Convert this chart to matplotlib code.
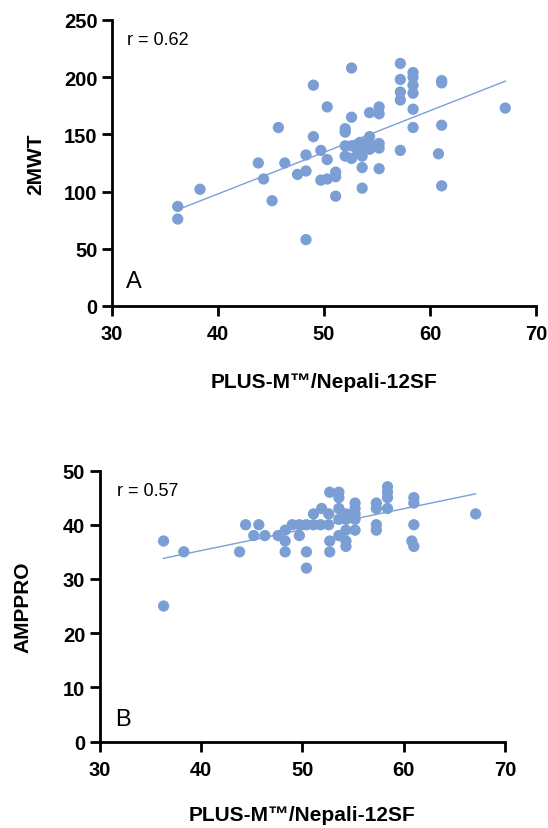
import numpy as np
import matplotlib
matplotlib.use('Agg')
import matplotlib.pyplot as plt

plt.rcParams['font.family'] = ['Liberation Sans', 'DejaVu Sans']

# Panel A: PLUS-M vs 2MWT
plus_a = [36.2, 36.2, 38.3, 43.8, 44.3, 45.1, 45.7, 46.3, 47.5, 48.3,
          48.3, 48.3, 49.0, 49.0, 49.7, 49.7, 50.3, 50.3, 50.3, 51.1,
          51.1, 51.1, 52.0, 52.0, 52.0, 52.0, 52.6, 52.6, 52.6, 52.6,
          53.4, 53.6, 53.6, 53.6, 53.6, 54.3, 54.3, 54.3, 55.2, 55.2,
          55.2, 55.2, 55.2, 57.2, 57.2, 57.2, 57.2, 57.2, 58.4, 58.4,
          58.4, 58.4, 58.4, 58.4, 60.8, 61.1, 61.1, 61.1, 61.1, 67.1,
          53.0, 54.0, 54.8, 53.2]
mwt = [87, 76, 102, 125, 111, 92, 156, 125, 115, 118,
       132, 58, 193, 148, 136, 110, 174, 128, 111, 117,
       113, 96, 155, 152, 140, 131, 208, 165, 140, 129,
       143, 137, 131, 121, 103, 148, 137, 169, 174, 168,
       142, 138, 120, 212, 198, 187, 180, 136, 204, 200,
       193, 186, 172, 156, 133, 197, 195, 158, 105, 173,
       140, 142, 140, 135]

# Panel B: PLUS-M vs AMPPRO
plus_b = [36.3, 36.3, 38.3, 43.8, 44.4, 45.7, 45.2, 46.3, 47.6, 48.3,
          48.3, 48.3, 49.0, 49.7, 49.7, 50.4, 50.4, 50.4, 51.1, 51.1,
          51.9, 51.8, 52.6, 52.7, 52.6, 52.7, 52.7, 53.6, 53.6, 53.6,
          53.6, 53.6, 54.3, 54.3, 54.3, 54.3, 54.3, 55.2, 55.2, 55.2,
          55.2, 55.2, 57.3, 57.3, 57.3, 57.3, 58.4, 58.4, 58.4, 58.4,
          61.0, 61.0, 61.0, 60.8, 61.0, 67.1]
amppro = [37, 25, 35, 35, 40, 40, 38, 38, 38, 39,
          37, 35, 40, 40, 38, 40, 35, 32, 42, 40,
          43, 40, 42, 46, 40, 37, 35, 46, 45, 43,
          41, 38, 42, 41, 39, 37, 36, 44, 43, 42,
          41, 39, 44, 43, 40, 39, 47, 46, 45, 43,
          45, 44, 40, 37, 36, 42]

# fitted lines (start/end)
fit_x = [36.3, 67.1]
fit_a = [84.5, 196.5]
fit_b = [33.8, 45.7]

color = '#7B9FD5'
xlabel = 'PLUS-M\u2122/Nepali-12SF'


def style_axes(ax, yticks):
    for side in ['top', 'right']:
        ax.spines[side].set_visible(False)
    for side in ['left', 'bottom']:
        ax.spines[side].set_linewidth(2.0)
        ax.spines[side].set_color('black')
    ax.tick_params(width=2.0, length=7, labelsize=14.5)
    ax.tick_params(axis='y', pad=3.5)
    ax.tick_params(axis='x', pad=6)
    ax.set_xlim(30, 70)
    ax.set_xticks([30, 40, 50, 60, 70])
    ax.set_yticks(yticks)
    for lab in ax.get_xticklabels() + ax.get_yticklabels():
        lab.set_fontweight('bold')


fig = plt.figure(figsize=(5.48, 8.29), dpi=100)

ax1 = fig.add_axes([0.2044, 0.6297, 0.7737, 0.345])
ax1.scatter(plus_a, mwt, s=66, color=color, edgecolors='none', zorder=3, clip_on=False)
ax1.plot(fit_x, fit_a, color=color, linewidth=1, zorder=2)
ax1.set_ylim(0, 250)
style_axes(ax1, [0, 50, 100, 150, 200, 250])
ax1.set_xlabel(xlabel, fontsize=15, fontweight='bold', labelpad=21)
ax1.set_ylabel('2MWT', fontsize=15, fontweight='bold', labelpad=13)
ax1.text(0.035, 0.933, 'r = 0.62', transform=ax1.transAxes, fontsize=13, va='center')
ax1.text(0.033, 0.089, 'A', transform=ax1.transAxes, fontsize=17, va='center')

ax2 = fig.add_axes([0.182, 0.1043, 0.7396, 0.3269])
ax2.scatter(plus_b, amppro, s=66, color=color, edgecolors='none', zorder=3, clip_on=False)
ax2.plot(fit_x, fit_b, color=color, linewidth=1, zorder=2)
ax2.set_ylim(0, 50)
style_axes(ax2, [0, 10, 20, 30, 40, 50])
ax2.set_xlabel(xlabel, fontsize=15, fontweight='bold', labelpad=19)
ax2.set_ylabel('AMPPRO', fontsize=15, fontweight='bold', labelpad=22)
ax2.text(0.043, 0.925, 'r = 0.57', transform=ax2.transAxes, fontsize=13, va='center')
ax2.text(0.038, 0.083, 'B', transform=ax2.transAxes, fontsize=17, va='center')

fig.savefig('out.png', dpi=100)
